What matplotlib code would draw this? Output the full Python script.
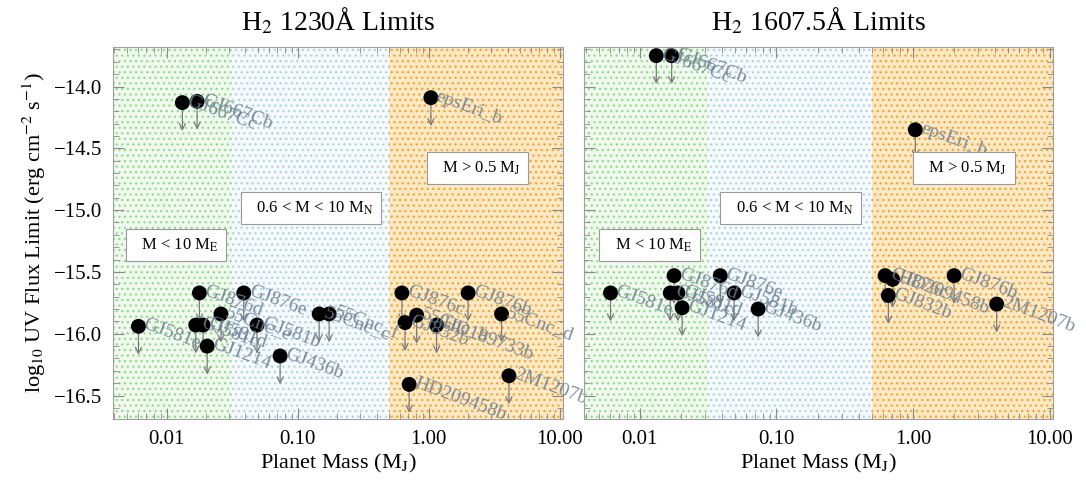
import numpy as np
import matplotlib
matplotlib.use("Agg")
import matplotlib.pyplot as plt
from matplotlib.ticker import FixedLocator, LogLocator, MultipleLocator, FuncFormatter, NullFormatter

plt.rcParams["font.family"] = "serif"
plt.rcParams["font.serif"] = ["Liberation Serif", "DejaVu Serif"]
plt.rcParams["mathtext.fontset"] = "stix"
plt.rcParams["hatch.linewidth"] = 0.9

# Planet sample: names, masses (Jupiter masses) and log10 flux upper limits
planets = ["GJ667Cc", "GJ667Cb", "epsEri_b", "GJ581e", "GJ876d", "55Cnc_e",
           "GJ581c", "GJ581d", "GJ1214", "GJ876e", "GJ581b", "GJ436b",
           "55Cnc_c", "55Cnc_f", "GJ876c", "55Cnc_b", "GJ832b", "HD189733b",
           "GJ876b", "55Cnc_d", "2M1207b", "HD209458b"]
mass_mj = [0.0132, 0.0171, 1.04, 0.0061, 0.0178, 0.026,
           0.0167, 0.0190, 0.0204, 0.0388, 0.049, 0.0735,
           0.146, 0.174, 0.625, 0.81, 0.66, 1.15,
           2.0, 3.6, 4.1, 0.71]
flux_1230 = [-14.13, -14.12, -14.09, -15.94, -15.67, -15.84,
             -15.93, -15.93, -16.10, -15.67, -15.93, -16.18,
             -15.84, -15.84, -15.67, -15.85, -15.91, -15.93,
             -15.67, -15.84, -16.34, -16.41]
flux_1607 = [-13.75, -13.75, -14.35, -15.67, -15.53, np.nan,
             -15.67, -15.67, -15.79, -15.53, -15.67, -15.80,
             np.nan, np.nan, -15.53, np.nan, -15.69, np.nan,
             -15.53, np.nan, -15.76, -15.56]

panel_titles = ["H$_2$ 1230Å Limits", "H$_2$ 1607.5Å Limits"]

# Mass classes shaded behind the points
class_edges = [0.0039, 0.0315, 0.5, 10.6]
class_labels = [r"M < 10 M$_{\rm E}$", r"0.6 < M < 10 M$_{\rm N}$", r"M > 0.5 M$_{\rm J}$"]
class_face = ["#f1f9ef", "#f6fafc", "#fbe8c4"]
class_dots = ["#8edb8b", "#aed3e5", "#f2a630"]
class_box_pos = [(0.14, 0.468), (0.44, 0.567), (0.81, 0.675)]

x_ticks = [0.01, 0.1, 1.0, 10.0]

fig = plt.figure(figsize=(10.86, 4.87), dpi=100)
ax1 = fig.add_axes([113 / 1086, 1 - 419 / 487, 450 / 1086, 372 / 487])
ax2 = fig.add_axes([584 / 1086, 1 - 419 / 487, 469 / 1086, 372 / 487])

label_color = "#6d7f92"

for ax, flux, title in zip([ax1, ax2], [flux_1230, flux_1607], panel_titles):
    ax.set_xscale("log")
    ax.set_xlim(class_edges[0], class_edges[-1])
    ax.set_ylim(-16.69, -13.68)

    for lo, hi, fc, dc in zip(class_edges[:-1], class_edges[1:], class_face, class_dots):
        ax.axvspan(lo, hi, facecolor=fc, edgecolor=dc, hatch="...", lw=0, zorder=0)

    for (bx, by), txt in zip(class_box_pos, class_labels):
        ax.text(bx, by, "  " + txt, transform=ax.transAxes, ha="center", va="center",
                fontsize=12, zorder=6,
                bbox=dict(boxstyle="square,pad=0.45", fc="white", ec="#9a9a9a", lw=0.8))

    for name, m, f in zip(planets, mass_mj, flux):
        if np.isnan(f):
            continue
        ax.annotate("", xy=(m, f - 0.23), xytext=(m, f),
                    arrowprops=dict(arrowstyle="->", color="#7a7a7a", lw=0.9,
                                    mutation_scale=11, shrinkA=0, shrinkB=0),
                    zorder=2)
        ax.scatter([m], [f], s=115, c="black", edgecolors="none", zorder=3)
        ax.annotate(name, (m, f), xytext=(4, 1.5), textcoords="offset points",
                    rotation=-20, rotation_mode="anchor", ha="left", va="center",
                    fontsize=14, color=label_color, alpha=0.88, zorder=4,
                    annotation_clip=False)

    ax.xaxis.set_major_locator(FixedLocator(x_ticks))
    ax.xaxis.set_major_formatter(FuncFormatter(lambda v, p: f"{v:.2f}"))
    ax.xaxis.set_minor_locator(LogLocator(base=10, subs=np.arange(2, 10)))
    ax.xaxis.set_minor_formatter(NullFormatter())
    ax.yaxis.set_major_locator(MultipleLocator(0.5))
    ax.yaxis.set_minor_locator(MultipleLocator(0.1))
    ax.yaxis.set_major_formatter(FuncFormatter(lambda v, p: f"{v:.1f}".replace("-", "\u2212")))
    ax.tick_params(which="both", direction="in", top=True, right=True, color="#8a8a8a")
    ax.tick_params(which="major", length=8, labelsize=15, pad=8)
    ax.tick_params(which="minor", length=4)
    for sp in ax.spines.values():
        sp.set_color("#a0a0a0")
    ax.set_xlabel("Planet Mass (M$_{\\rm J}$)", fontsize=16, labelpad=2)
    ax.set_title(title, fontsize=20, pad=12)

ax2.tick_params(labelleft=False)
ax1.set_ylabel("log$_{10}$ UV Flux Limit (erg cm$^{-2}$ s$^{-1}$)", fontsize=16)

fig.savefig("out.png", dpi=100)
